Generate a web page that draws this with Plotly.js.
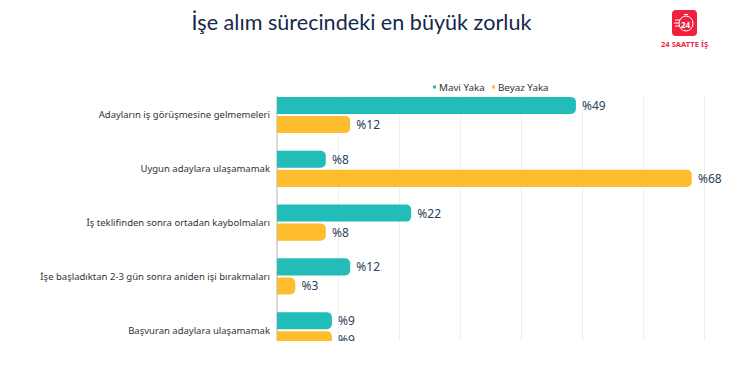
<!DOCTYPE html>
<html><head><meta charset="utf-8">
<script src="https://cdn.plot.ly/plotly-3.0.1.min.js"></script>
<style>html,body{margin:0;padding:0;background:#fff}#c{width:742px;height:370px}</style>
</head><body><div id="c"></div>
<script>
const categories = ["Adayların iş görüşmesine gelmemeleri","Uygun adaylara ulaşamamak","İş teklifinden sonra ortadan kaybolmaları","İşe başladıktan 2-3 gün sonra aniden işi bırakmaları","Başvuran adaylara ulaşamamak"];
const maviYaka = [49,8,22,12,9];
const beyazYaka = [12,68,8,3,9];
const seriesNames = ["Mavi Yaka","Beyaz Yaka"];
const colors = ["#22BDB8","#FDBD2C"];
const W=742,H=370;
const px=x=>x/W, py=y=>1-y/H;
const sans="'Noto Sans', sans-serif";
const labelFont={family:sans,size:12,color:"#2b3f5c"};
function bar(name,vals,color){return {type:"bar",orientation:"h",name,y:categories,x:vals,
  marker:{color,line:{width:0}},text:vals.map(v=>" %"+v),textposition:"outside",texttemplate:"%{text}",
  textfont:labelFont,cliponaxis:true,hoverinfo:"x+y",showlegend:false};}
const data=[bar(seriesNames[0],maviYaka,colors[0]),bar(seriesNames[1],beyazYaka,colors[1])];
const rrect=(x0,y0,x1,y1,r)=>`M${px(x0+r)},${py(y0)}L${px(x1-r)},${py(y0)}Q${px(x1)},${py(y0)} ${px(x1)},${py(y0+r)}L${px(x1)},${py(y1-r)}Q${px(x1)},${py(y1)} ${px(x1-r)},${py(y1)}L${px(x0+r)},${py(y1)}Q${px(x0)},${py(y1)} ${px(x0)},${py(y1-r)}L${px(x0)},${py(y0+r)}Q${px(x0)},${py(y0)} ${px(x0+r)},${py(y0)}Z`;
const seg=(x0,y0,x1,y1,c,w)=>({type:"line",xref:"paper",yref:"paper",x0:px(x0),x1:px(x1),y0:py(y0),y1:py(y1),line:{color:c,width:w}});
const layout={
  width:W,height:H,margin:{l:0,r:0,t:0,b:0,autoexpand:false},paper_bgcolor:"#fff",plot_bgcolor:"#fff",
  barmode:"group",bargap:0.29,bargroupgap:0.105,barcornerradius:5,showlegend:false,
  title:{text:"İşe alım sürecindeki en büyük zorluk",x:361.5/W,xanchor:"center",y:1-22/H,yanchor:"middle",
    font:{family:"Lato, sans-serif",size:21.6,color:"#14294b"}},
  xaxis:{domain:[px(277),1],range:[0,76.23],tick0:0,dtick:10,showticklabels:false,ticks:"",
    showgrid:true,gridcolor:"#efefef",gridwidth:1,zeroline:true,zerolinecolor:"#d9d9d9",zerolinewidth:1.5,showline:false,fixedrange:true},
  yaxis:{domain:[py(341),py(96)],type:"category",categoryorder:"array",categoryarray:categories,range:[4.2,-0.353],
    showgrid:false,zeroline:false,showline:false,ticks:"",automargin:false,ticklabelstandoff:6,
    tickfont:{family:sans,size:9.5,color:"#333"},fixedrange:true},
  shapes:[
    {type:"rect",xref:"paper",yref:"paper",x0:px(433),x1:px(436),y0:py(85.5),y1:py(88.5),fillcolor:colors[0],line:{width:0}},
    {type:"rect",xref:"paper",yref:"paper",x0:px(492),x1:px(495),y0:py(85.5),y1:py(88.5),fillcolor:colors[1],line:{width:0}},
    {type:"path",xref:"paper",yref:"paper",path:rrect(672,10,697,36,4),fillcolor:"#F0203F",line:{width:0}},
    {type:"circle",xref:"paper",yref:"paper",x0:px(679),x1:px(693),y0:py(16),y1:py(31),fillcolor:"rgba(0,0,0,0)",line:{color:"#fff",width:1}},
    seg(684,14.5,688,14.5,"#fff",1),
    seg(675,20,680,20,"#fff",1),seg(674,23,679,23,"#fff",1),seg(675,26,680,26,"#fff",1)
  ],
  annotations:[
    {xref:"paper",yref:"paper",x:px(437),y:py(87),xanchor:"left",yanchor:"middle",showarrow:false,text:seriesNames[0],font:{family:sans,size:9.8,color:"#333"}},
    {xref:"paper",yref:"paper",x:px(496),y:py(87),xanchor:"left",yanchor:"middle",showarrow:false,text:seriesNames[1],font:{family:sans,size:9.8,color:"#333"}},
    {xref:"paper",yref:"paper",x:px(686),y:py(24),xanchor:"center",yanchor:"middle",showarrow:false,text:"<b>24</b>",font:{family:sans,size:8,color:"#fff"}},
    {xref:"paper",yref:"paper",x:px(684),y:py(44),xanchor:"center",yanchor:"middle",showarrow:false,text:"<b>24 SAATTE İŞ</b>",font:{family:sans,size:7.6,color:"#EE2A45"}}
  ]
};
Plotly.newPlot("c",data,layout,{displayModeBar:false,staticPlot:true});
</script></body></html>
